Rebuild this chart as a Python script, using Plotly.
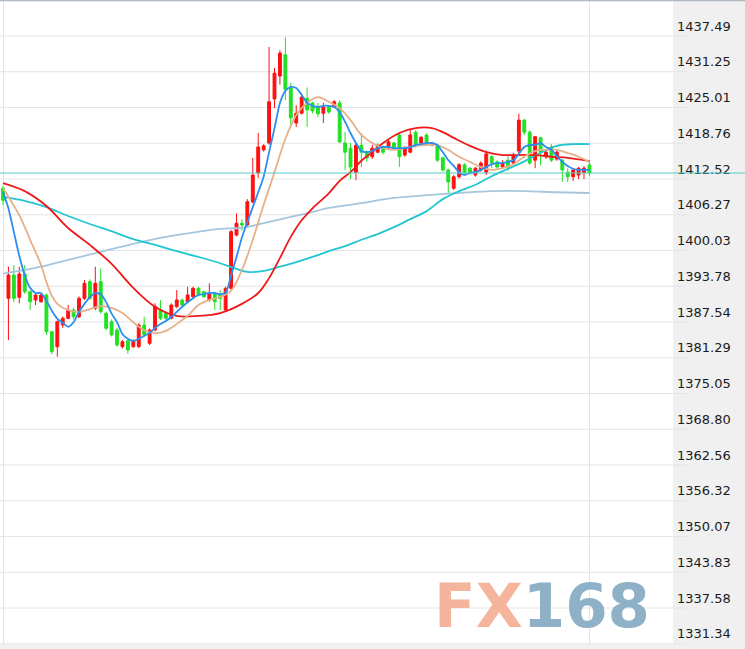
import plotly.graph_objects as go

# ---------------- data ----------------
tick_values = [1331.34, 1337.58, 1343.83, 1350.07, 1356.32, 1362.56, 1368.80, 1375.05,
               1381.29, 1387.54, 1393.78, 1400.03, 1406.27, 1412.52, 1418.76, 1425.01,
               1431.25, 1437.49]
tick_labels = ["1331.34", "1337.58", "1343.83", "1350.07", "1356.32", "1362.56", "1368.80",
               "1375.05", "1381.29", "1387.54", "1393.78", "1400.03", "1406.27", "1412.52",
               "1418.76", "1425.01", "1431.25", "1437.49"]

open_ = [1410.9, 1391.67, 1395.74, 1391.85, 1395.92, 1392.83, 1391.38, 1391.08, 1392.25, 1385.85,
         1383.23, 1387.01, 1388.18, 1389.63, 1388.46, 1391.67, 1394.58, 1389.92, 1394.58, 1389.05,
         1387.59, 1386.14, 1383.23, 1384.27, 1383.23, 1383.23, 1387.01, 1383.81, 1386.14, 1389.63,
         1389.05, 1388.18, 1390.21, 1391.38, 1391.08, 1391.96, 1393.42, 1392.83, 1391.38, 1392.54,
         1392.25, 1389.63, 1393.42, 1402.73, 1404.77, 1404.48, 1408.5, 1413.56, 1417.6, 1418.8,
         1426.5, 1430.5, 1434.2, 1428.4, 1422.3, 1424.0, 1426.6, 1425.8, 1425.2, 1424.0,
         1425.1, 1425.1, 1425.8, 1418.8, 1417.9, 1413.7, 1418.4, 1417.2, 1416.4, 1417.2,
         1418.1, 1418.0, 1418.8, 1420.2, 1416.7, 1417.2, 1420.7, 1418.8, 1420.2, 1418.5,
         1418.45, 1416.2, 1414.1, 1410.9, 1412.9, 1415.0, 1414.4, 1413.2, 1414.1, 1413.7,
         1416.4, 1415.5, 1414.6, 1415.8, 1415.3, 1417.4, 1422.8, 1420.7, 1415.8, 1419.7,
         1416.4, 1418.1, 1416.0, 1415.8, 1413.7, 1412.9, 1413.2, 1413.6, 1414.96]
high = [1411.3, 1397.2, 1397.49, 1397.2, 1397.49, 1393.0, 1392.5, 1392.6, 1392.5, 1386.0,
        1387.8, 1388.5, 1390.5, 1390.0, 1392.0, 1394.87, 1395.0, 1397.2, 1396.9, 1389.34,
        1388.0, 1386.5, 1384.4, 1384.5, 1384.5, 1387.3, 1388.46, 1386.4, 1390.8, 1391.38,
        1389.3, 1390.8, 1393.12, 1391.6, 1393.71, 1393.7, 1393.7, 1393.0, 1394.29, 1392.8,
        1393.12, 1393.7, 1403.6, 1406.5, 1405.5, 1409.0, 1416.2, 1420.55, 1418.6, 1435.57,
        1431.9, 1435.0, 1437.3, 1429.3, 1425.4, 1427.5, 1428.5, 1426.0, 1425.8, 1425.8,
        1425.4, 1426.3, 1426.3, 1420.7, 1418.8, 1418.8, 1420.5, 1417.5, 1418.5, 1418.7,
        1418.4, 1419.3, 1419.0, 1420.6, 1418.2, 1421.2, 1421.0, 1420.0, 1420.5, 1419.0,
        1418.6, 1416.4, 1414.3, 1413.2, 1415.3, 1415.3, 1414.6, 1414.6, 1415.6, 1417.5,
        1416.7, 1415.8, 1415.8, 1416.5, 1417.1, 1423.9, 1423.0, 1421.0, 1420.0, 1419.9,
        1417.5, 1418.6, 1417.5, 1416.0, 1414.4, 1414.3, 1414.6, 1414.8, 1415.8]
low = [1408.0, 1384.39, 1391.0, 1390.8, 1392.5, 1389.63, 1390.5, 1390.9, 1385.3, 1381.9,
       1381.48, 1386.5, 1388.0, 1388.0, 1388.2, 1391.4, 1391.4, 1389.6, 1389.0, 1386.1,
       1385.0, 1383.2, 1382.9, 1382.0, 1383.0, 1383.0, 1385.0, 1383.52, 1385.9, 1387.9,
       1387.8, 1388.0, 1390.0, 1390.2, 1390.9, 1391.7, 1392.0, 1391.7, 1391.1, 1389.63,
       1389.63, 1389.4, 1393.2, 1402.5, 1403.5, 1404.2, 1408.3, 1412.7, 1417.3, 1418.5,
       1424.9, 1429.0, 1426.3, 1421.6, 1421.6, 1423.8, 1421.6, 1424.0, 1423.3, 1422.3,
       1423.9, 1424.9, 1418.8, 1414.1, 1412.5, 1412.3, 1414.6, 1415.5, 1416.0, 1417.0,
       1416.8, 1417.7, 1417.8, 1414.6, 1416.4, 1417.0, 1418.0, 1418.5, 1418.4, 1418.2,
       1415.5, 1413.8, 1410.07, 1410.6, 1412.6, 1413.3, 1413.3, 1412.9, 1413.8, 1413.2,
       1414.4, 1414.3, 1414.3, 1413.9, 1415.0, 1416.9, 1420.2, 1415.0, 1414.4, 1414.9,
       1416.0, 1415.5, 1415.7, 1412.0, 1412.0, 1412.2, 1412.5, 1412.5, 1413.0]
close = [1408.8, 1395.74, 1391.67, 1395.92, 1392.83, 1391.08, 1392.25, 1392.25, 1385.85, 1382.35,
         1387.59, 1388.18, 1389.63, 1388.46, 1391.67, 1394.29, 1391.67, 1394.29, 1389.34, 1386.43,
         1385.27, 1383.52, 1384.1, 1382.65, 1384.27, 1387.01, 1385.27, 1386.14, 1390.21, 1388.18,
         1388.18, 1390.5, 1391.38, 1390.5, 1392.25, 1393.42, 1392.25, 1391.96, 1392.54, 1391.08,
         1391.67, 1393.42, 1403.32, 1404.77, 1404.48, 1408.55, 1413.2, 1418.1, 1418.3, 1426.0,
         1431.0, 1434.5, 1428.2, 1423.2, 1424.0, 1426.8, 1424.6, 1424.4, 1423.9, 1425.1,
         1424.2, 1426.0, 1419.0, 1417.2, 1414.6, 1418.4, 1417.2, 1416.2, 1417.9, 1418.4,
         1417.2, 1419.0, 1418.1, 1416.4, 1417.9, 1420.2, 1418.4, 1419.8, 1418.8, 1418.8,
         1415.8, 1414.1, 1412.0, 1412.9, 1415.0, 1413.6, 1413.6, 1414.4, 1415.3, 1416.9,
         1415.3, 1414.6, 1415.3, 1414.6, 1416.7, 1422.8, 1420.7, 1415.3, 1419.9, 1417.2,
         1417.2, 1415.8, 1417.2, 1414.1, 1412.9, 1414.1, 1414.4, 1414.4, 1413.56]
bars = list(range(len(close)))

ma_fast = [1410.24, 1407.4, 1403.25, 1399.1, 1395.7, 1393.5, 1392.6, 1392.6, 1391.2, 1389.5,
           1388.1, 1387.4, 1386.7, 1387.5, 1389.3, 1390.7, 1391.9, 1392.6, 1392.4, 1391.0,
           1389.0, 1387.5, 1385.4, 1384.6, 1384.2, 1384.6, 1385.1, 1385.6, 1386.5, 1387.2,
           1387.7, 1388.4, 1389.3, 1390.2, 1391.0, 1391.7, 1392.25, 1392.4, 1392.6, 1392.6,
           1392.4, 1392.6, 1395.6, 1398.9, 1402.3, 1405.0, 1407.6, 1410.2, 1412.9, 1417.2,
           1421.4, 1425.8, 1427.9, 1428.6, 1428.4, 1427.2, 1425.8, 1425.3, 1425.1, 1425.3,
           1425.3, 1425.1, 1424.2, 1422.5, 1420.55, 1418.8, 1417.4, 1417.2, 1417.4, 1417.9,
           1418.1, 1418.1, 1417.9, 1417.9, 1417.9, 1418.1, 1418.45, 1418.6, 1418.8, 1418.8,
           1418.45, 1417.2, 1415.8, 1414.8, 1413.7, 1413.2, 1413.6, 1413.7, 1414.1, 1414.6,
           1415.1, 1415.3, 1415.3, 1415.5, 1415.8, 1416.9, 1418.1, 1418.45, 1418.45, 1418.8,
           1418.1, 1417.6, 1416.5, 1415.5, 1414.8, 1414.3, 1414.1, 1414.1, 1414.1]

ma_mid_x = [0, 1, 3, 5, 7, 8, 9, 10, 12, 14, 16, 18, 20, 22, 24, 26, 28, 30, 32, 34, 36, 38, 40,
            42, 44, 46, 48, 50, 52, 54, 56, 58, 60, 62, 64, 66, 68, 70, 72, 74, 76, 78, 80, 82,
            84, 86, 88, 90, 92, 94, 96, 98, 100, 102, 104, 106, 108]
ma_mid = [1410.9, 1409.4, 1406.2, 1401.9, 1397.5, 1394.5, 1392.1, 1390.7, 1389.6, 1389.3,
          1389.8, 1390.3, 1390.0, 1389.1, 1387.5, 1386.1, 1385.6, 1386.0, 1387.2, 1388.6,
          1390.5, 1391.4, 1391.9, 1393.0, 1396.6, 1401.9, 1408.0, 1413.7, 1419.5, 1423.7,
          1425.8, 1426.8, 1426.0, 1424.9, 1422.8, 1420.2, 1418.8, 1417.9, 1417.6, 1417.9,
          1418.3, 1418.45, 1418.45, 1417.6, 1416.4, 1415.5, 1414.6, 1414.1, 1414.4, 1415.1,
          1416.4, 1417.4, 1417.6, 1417.6, 1417.05, 1416.4, 1415.5]

ma_red_x = [0, 4, 8, 12, 16, 20, 24, 28, 32, 36, 40, 44, 47, 49, 51, 53, 55, 57, 60, 62, 64, 66,
            68, 70, 73, 76, 79, 81, 83, 86, 89, 92, 95, 98, 101, 104, 108]
ma_red = [1411.8, 1410.4, 1407.8, 1403.95, 1401.0, 1397.7, 1393.5, 1390.2, 1388.6, 1388.6,
          1389.1, 1390.7, 1392.6, 1395.2, 1398.7, 1402.4, 1405.3, 1407.4, 1410.0, 1412.2,
          1413.7, 1415.7, 1417.2, 1418.8, 1420.55, 1421.4, 1421.4, 1420.7, 1419.7, 1418.3,
          1417.2, 1416.7, 1416.7, 1416.7, 1416.4, 1416.2, 1415.65]

ma_cyan_x = [0, 4, 8, 12, 16, 20, 24, 28, 32, 36, 40, 43, 45, 48, 51, 54, 57, 60, 63, 66, 69,
             72, 75, 78, 81, 84, 87, 90, 93, 96, 99, 102, 105, 108]
ma_cyan = [1409.4, 1408.7, 1407.6, 1406.05, 1404.65, 1403.4, 1402.0, 1401.0, 1399.9, 1398.9,
           1397.8, 1396.8, 1396.3, 1396.45, 1397.2, 1398.0, 1398.9, 1399.9, 1400.8, 1401.9,
           1402.9, 1404.1, 1405.5, 1406.9, 1409.0, 1410.4, 1411.5, 1413.0, 1414.3, 1415.6,
           1417.1, 1418.3, 1418.6, 1418.6]

ma_slow_x = [0, 6, 12, 18, 24, 30, 36, 40, 44, 48, 52, 56, 60, 66, 72, 78, 84, 90, 96, 102, 108]
ma_slow = [1396.0, 1397.0, 1398.4, 1399.8, 1401.2, 1402.4, 1403.3, 1403.8, 1404.0, 1404.8,
           1405.7, 1406.5, 1407.45, 1408.3, 1409.2, 1409.7, 1410.07, 1410.4, 1410.4, 1410.2,
           1410.07]

time_marks = [0, 108]

# ---------------- figure ----------------
W, H = 745, 649
ML, MR, MT, MB = 0, 72, 0, 5
PW, PH = W - ML - MR, H - MT - MB
step = 5.43            # pixels between bars
first_px = 3.0         # pixel of first bar
x0 = -first_px / step
x1 = x0 + PW / step
ppu = 5.7254           # pixels per price unit
y_top = tick_values[-1] + 36 / ppu
y_bot = y_top - PH / ppu

RED = "#ff1010"
GREEN = "#22e022"

fig = go.Figure()
fig.add_trace(go.Candlestick(
    x=bars, open=open_, high=high, low=low, close=close,
    increasing=dict(line=dict(color=RED, width=1), fillcolor=RED),
    decreasing=dict(line=dict(color=GREEN, width=1), fillcolor=GREEN),
    whiskerwidth=0, hoverinfo="skip", showlegend=False))

def ma_line(x, y, color, smooth=1.0):
    fig.add_trace(go.Scatter(x=x, y=y, mode="lines",
                             line=dict(color=color, width=1.8, shape="spline", smoothing=smooth),
                             hoverinfo="skip", showlegend=False))

ma_line(ma_slow_x, ma_slow, "#a6c6dd")
ma_line(ma_cyan_x, ma_cyan, "#22c6d2")
ma_line(ma_red_x, ma_red, "#ee1a1a")
ma_line(ma_mid_x, ma_mid, "#e6b08a")
ma_line(bars, ma_fast, "#2b8ef0", 0.6)

shapes = []
x_ext = (687 - ML) / PW
for v in tick_values:
    shapes.append(dict(type="line", xref="paper", yref="y", x0=0, x1=x_ext, y0=v, y1=v,
                       line=dict(color="#e4e4e4", width=1), layer="below"))
# last price line
shapes.append(dict(type="line", xref="paper", yref="y", x0=0, x1=W / PW, y0=close[-1], y1=close[-1],
                   line=dict(color="#55cbc3", width=1), layer="above"))
# top border
shapes.append(dict(type="line", xref="paper", yref="paper", x0=0, x1=W / PW,
                   y0=1 - 0.6 / PH, y1=1 - 0.6 / PH, line=dict(color="#aeb9c4", width=1.2)))

watermark = ("<span style='color:#f4b59c'>FX</span>"
             "<span style='color:#8fb1c7'>168</span>")
annotations = [dict(text=watermark, xref="paper", yref="paper", x=542 / PW, y=1 - 605 / PH,
                    xanchor="center", yanchor="middle", showarrow=False,
                    font=dict(family="DejaVu Sans", size=61, color="#8fb1c7", weight="bold"))]

fig.update_layout(
    width=W, height=H,
    margin=dict(l=ML, r=MR, t=MT, b=MB, pad=0),
    paper_bgcolor="#f0f0f0", plot_bgcolor="#ffffff",
    boxgap=0.25,
    showlegend=False,
    shapes=shapes, annotations=annotations,
    xaxis=dict(range=[x0, x1], rangeslider=dict(visible=False), showticklabels=False,
               tickvals=time_marks, showgrid=True, gridcolor="#e4e4e4", gridwidth=1,
               zeroline=False, showline=False, ticks="", fixedrange=True),
    yaxis=dict(range=[y_bot, y_top], side="right", tickvals=tick_values, ticktext=tick_labels,
               showgrid=False, zeroline=False, showline=False, ticks="",
               ticklabelstandoff=3, ticklabelshift=-10,
               tickfont=dict(family="DejaVu Sans", size=13, color="#1a1a1a"), fixedrange=True),
)

fig.write_html("out.html", config={"displayModeBar": False},
               post_script="document.body.style.margin='0px';document.body.style.padding='0px';")
